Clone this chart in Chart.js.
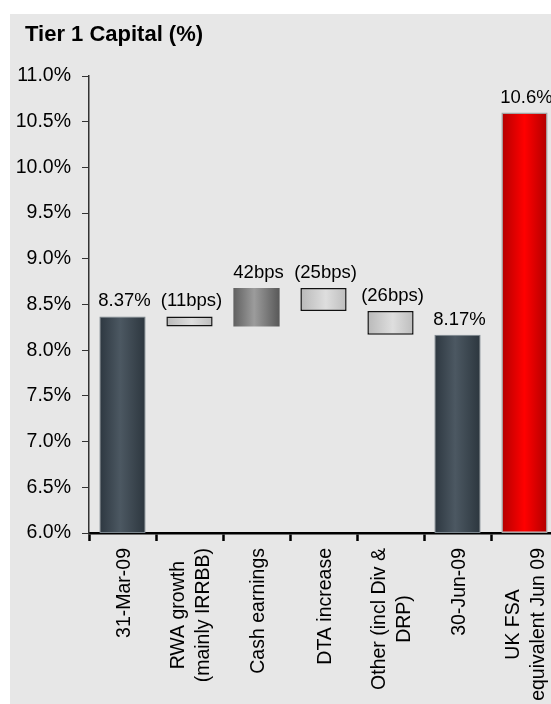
<!DOCTYPE html>
<html>
<head>
<meta charset="utf-8">
<title>Tier 1 Capital (%)</title>
<script src="https://cdn.jsdelivr.net/npm/chart.js@4.4.0/dist/chart.umd.min.js"></script>
<style>
  html, body { margin: 0; padding: 0; background: #fff; overflow: hidden; width: 551px; height: 704px; }
  #wrap { position: absolute; left: 0; top: 0; width: 558px; height: 704px; }
</style>
</head>
<body>
<div id="wrap"><canvas id="chart" width="558" height="704"></canvas></div>
<script>
// ---- Data -------------------------------------------------------------
const categories = [
  '31-Mar-09',
  ['RWA growth', '(mainly IRRBB)'],
  'Cash earnings',
  'DTA increase',
  ['Other (incl Div &', 'DRP)'],
  '30-Jun-09',
  ['UK FSA', 'equivalent Jun 09']
];
const openingRatio = 8.37;             // Tier 1 ratio at 31-Mar-09 (%)
const movementsBps = [-11, 42, -25, -26]; // movements during the quarter (bps)
const closingRatio = 8.17;             // Tier 1 ratio at 30-Jun-09 (%)
const fsaRatio = 10.6;                 // UK FSA equivalent (%)
const axisMin = 6.0;
const axisMax = 11.0;
const axisStep = 0.5;
const chartTitle = 'Tier 1 Capital (%)';

// ---- Waterfall construction --------------------------------------------
const ranges = [];
const kinds = [];
const valueLabels = [];

ranges.push([axisMin, openingRatio]); kinds.push('total'); valueLabels.push(openingRatio + '%');
let running = openingRatio;
movementsBps.forEach(b => {
  const next = Math.round((running + b / 100) * 100) / 100;
  ranges.push([running, next]);
  kinds.push(b < 0 ? 'down' : 'up');
  valueLabels.push(b < 0 ? '(' + (-b) + 'bps)' : b + 'bps');
  running = next;
});
ranges.push([axisMin, closingRatio]); kinds.push('total'); valueLabels.push(closingRatio + '%');
ranges.push([axisMin, fsaRatio]); kinds.push('fsa'); valueLabels.push(fsaRatio + '%');

// ---- Styling --------------------------------------------------------------
const FONT = '"Liberation Sans", Arial, Helvetica, sans-serif';
const BAR_PCT = 0.69;
const PANEL_BG = '#e7e7e7';

const gradientStops = {
  total: [[0, '#2d3740'], [0.45, '#4c5862'], [1, '#2c363e']],
  down:  [[0, '#b9b9b9'], [0.55, '#dedede'], [1, '#bdbdbd']],
  up:    [[0, '#606060'], [0.45, '#9c9c9c'], [1, '#585858']],
  fsa:   [[0, '#b30000'], [0.5, '#ff0000'], [1, '#b00000']]
};
const borderColors = { total: '#7b868e', down: '#111111', up: 'rgba(0,0,0,0)', fsa: '#a3a3a3' };
const borderWidths = { total: 1, down: 1.5, up: 0, fsa: 1.5 };

function barFill(ctx) {
  const chart = ctx.chart;
  const kind = kinds[ctx.dataIndex];
  const stops = gradientStops[kind];
  const xs = chart.scales && chart.scales.x;
  if (!chart.chartArea || !xs) return stops[1][1];
  const cx = xs.getPixelForValue(ctx.dataIndex);
  const half = (chart.chartArea.width / categories.length) * BAR_PCT / 2;
  const g = chart.ctx.createLinearGradient(cx - half, 0, cx + half, 0);
  stops.forEach(s => g.addColorStop(s[0], s[1]));
  return g;
}

// Grey panel + title
const panelPlugin = {
  id: 'panel',
  beforeDraw(chart) {
    const c = chart.ctx;
    c.save();
    c.fillStyle = PANEL_BG;
    c.fillRect(10, 14, chart.width - 10, chart.height - 14);
    c.fillStyle = '#000';
    c.font = 'bold 22px ' + FONT;
    c.textAlign = 'left';
    c.textBaseline = 'alphabetic';
    c.fillText(chartTitle, 25, 41);
    c.restore();
  }
};

// Value labels above each bar
const valueLabelPlugin = {
  id: 'valueLabels',
  afterDatasetsDraw(chart) {
    const c = chart.ctx;
    const meta = chart.getDatasetMeta(0);
    c.save();
    c.fillStyle = '#000';
    c.font = '18.5px ' + FONT;
    c.textAlign = 'center';
    c.textBaseline = 'alphabetic';
    meta.data.forEach((el, i) => {
      const top = Math.min(el.y, el.base);
      c.fillText(valueLabels[i], el.x + 2, top - 10);
    });
    c.restore();
  }
};

// Rotated category labels, lines centred within each label block
const categoryLabelPlugin = {
  id: 'categoryLabels',
  afterDraw(chart) {
    const c = chart.ctx;
    const xs = chart.scales.x;
    const size = 19.5, lineH = 24.5;
    const top = chart.chartArea.bottom + 15;
    c.save();
    c.fillStyle = '#000';
    c.font = size + 'px ' + FONT;
    c.textAlign = 'center';
    c.textBaseline = 'alphabetic';
    categories.forEach((lab, i) => {
      const lines = Array.isArray(lab) ? lab : [lab];
      const blockW = Math.max(...lines.map(l => c.measureText(l).width));
      const cx = xs.getPixelForValue(i);
      c.save();
      c.translate(cx, top + blockW / 2);
      c.rotate(-Math.PI / 2);
      lines.forEach((l, j) => {
        const off = (j - (lines.length - 1) / 2) * lineH;
        c.fillText(l, 0, off + size * 0.36);
      });
      c.restore();
    });
    c.restore();
  }
};

Chart.defaults.font.family = FONT;
Chart.defaults.color = '#000';

new Chart(document.getElementById('chart'), {
  type: 'bar',
  data: {
    labels: categories,
    datasets: [{
      data: ranges,
      backgroundColor: barFill,
      borderColor: ctx => borderColors[kinds[ctx.dataIndex]],
      borderWidth: ctx => borderWidths[kinds[ctx.dataIndex]],
      borderSkipped: false,
      barPercentage: BAR_PCT,
      categoryPercentage: 1
    }]
  },
  options: {
    responsive: false,
    devicePixelRatio: 1,
    animation: false,
    layout: { padding: { top: 76, left: 0, right: 0, bottom: 0 } },
    plugins: {
      legend: { display: false },
      title: { display: false },
      tooltip: { enabled: false }
    },
    scales: {
      x: {
        type: 'category',
        offset: true,
        ticks: { display: false },
        grid: {
          display: true, offset: true, drawOnChartArea: false, drawTicks: true,
          tickLength: 8, tickWidth: 2.5, tickColor: '#000'
        },
        border: { display: true, color: '#000', width: 2.5 },
        afterFit(s) { s.height = 704 - 533; }
      },
      y: {
        min: axisMin,
        max: axisMax,
        ticks: {
          stepSize: axisStep,
          padding: 11,
          color: '#000',
          font: { size: 19.5 },
          callback: v => Number(v).toFixed(1) + '%'
        },
        grid: {
          drawOnChartArea: false, drawTicks: true,
          tickLength: 7, tickWidth: 1, tickColor: '#333'
        },
        border: { display: true, color: '#333', width: 1.5 },
        afterFit(s) { s.width = 89; }
      }
    }
  },
  plugins: [panelPlugin, valueLabelPlugin, categoryLabelPlugin]
});
</script>
</body>
</html>
